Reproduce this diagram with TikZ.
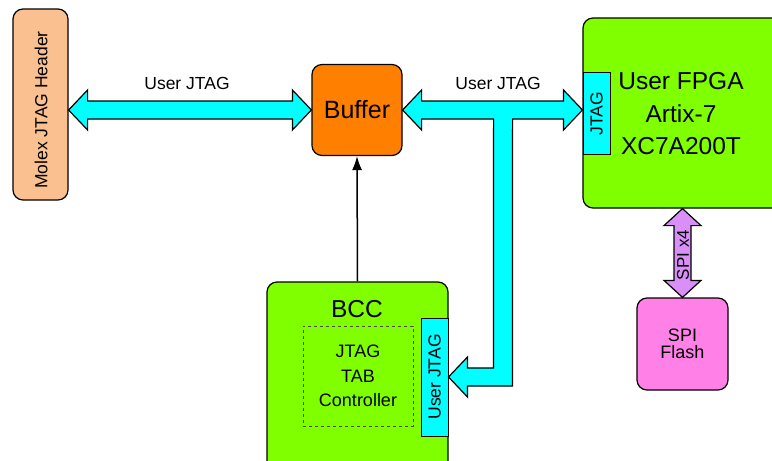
\documentclass[tikz,border=0pt]{standalone}
\usepackage{fontspec}
\setmainfont{Liberation Sans}
\usetikzlibrary{calc,arrows.meta}
\definecolor{molexc}{HTML}{FAC08F}
\definecolor{bufc}{HTML}{FF8000}
\definecolor{greenc}{HTML}{80FF00}
\definecolor{cyanc}{HTML}{00FFFF}
\definecolor{violetc}{HTML}{DA8EF8}
\definecolor{pinkc}{HTML}{FF80E6}
\begin{document}
\begin{tikzpicture}[x=1pt,y=-1pt,
  box/.style={draw=black,line width=1.2pt,rounded corners=10pt,inner sep=0pt},
  tabbox/.style={draw=black,line width=1pt,fill=cyanc,inner sep=0pt},
  fat/.style={draw=black,line width=1.2pt,fill=cyanc,line join=miter},
  lbl/.style={font=\fontsize{17.5}{24.5}\selectfont,inner sep=0pt},
  big/.style={font=\fontsize{24.5}{32.5}\selectfont,inner sep=0pt}]
\useasboundingbox (0,0) rectangle (772,461);

% boxes
\node[box,fill=molexc,minimum width=55pt,minimum height=191pt] (molex) at (40.5,104.5) {};
\node[lbl,rotate=90] (molexl) at (41,110) {Molex JTAG Header};

\node[box,fill=bufc,minimum width=90pt,minimum height=91pt,font=\fontsize{25}{30}\selectfont] (buf) at (357,110) {Buffer};

\node[box,fill=greenc,minimum width=207pt,minimum height=190pt] (fpga) at (686.5,113) {};
\node[tabbox,minimum width=27pt,minimum height=82pt] (ftab) at (596.5,113.5) {};
\node[lbl,rotate=90] (ftabl) at (ftab) {JTAG};
\node[big,align=center] (fpgal) at (681,114) {User FPGA\\Artix-7\\XC7A200T};

\node[box,fill=greenc,minimum width=181pt,minimum height=190pt] (bcc) at (357.5,377) {};
\node[big] (bccl) at (357,309) {BCC};
\node[draw=black!70,dashed,line width=0.6pt,minimum width=110pt,minimum height=100pt,align=center,font=\fontsize{18}{24.5}\selectfont] (ctrl) at (358,376) {JTAG\\TAB\\Controller};
\node[tabbox,minimum width=27pt,minimum height=118pt] (ujtag) at (434.5,377) {};
\node[lbl,rotate=90] (ujtagl) at (ujtag) {User JTAG};

\node[box,fill=pinkc,minimum width=91pt,minimum height=92pt,align=center,font=\fontsize{18}{17}\selectfont] (flash) at (682.5,344) {SPI\\Flash};

% arrow Molex <-> Buffer
\coordinate (a1) at (molex.east |- buf.west);
\draw[fat] (a1) -- ++(19,-20) -- ++(0,11) -- ($(buf.west)+(-19,-9)$) -- ++(0,-11)
  -- (buf.west) -- ++(-19,20) -- ++(0,-11) -- ($(a1)+(19,9)$) -- ++(0,11) -- cycle;
\node[lbl] (l1) at (187,83.5) {User JTAG};

% arrow Buffer <-> FPGA with branch to BCC
\coordinate (b1) at (ftab.west |- buf.east);
\coordinate (c1) at (ujtag.east);
\draw[fat] (buf.east) -- ++(19,-20) -- ++(0,11) -- ($(b1)+(-19,-9)$) -- ++(0,-11)
  -- (b1) -- ++(-19,20) -- ++(0,-11) -- ($(buf.east)+(110,9)$)
  -- ($(c1)+(64,9)$) -- ($(c1)+(19,9)$) -- ++(0,11) -- (c1) -- ++(19,-20) -- ++(0,11)
  -- ($(c1)+(45,-9)$) -- ($(buf.east)+(91,9)$) -- ($(buf.east)+(19,9)$) -- ++(0,11) -- cycle;
\node[lbl] (l2) at (498,83.5) {User JTAG};

% BCC -> Buffer
\draw[line width=1.5pt,-{Latex[length=14pt,width=10pt]}] (bcc.north) -- (buf.south);

% SPI arrow
\coordinate (s1) at (flash.north |- fpga.south);
\draw[fat,fill=violetc] (s1) -- ++(18.5,17) -- ++(-10,0) -- ($(flash.north)+(8.5,-17)$) -- ++(10,0)
  -- (flash.north) -- ++(-18.5,-17) -- ++(10,0) -- ($(s1)+(-8.5,17)$) -- ++(-10,0) -- cycle;
\node[lbl,rotate=90,font=\fontsize{17}{20}\selectfont] (spil) at (683,255) {SPI x4};
\end{tikzpicture}
\end{document}
